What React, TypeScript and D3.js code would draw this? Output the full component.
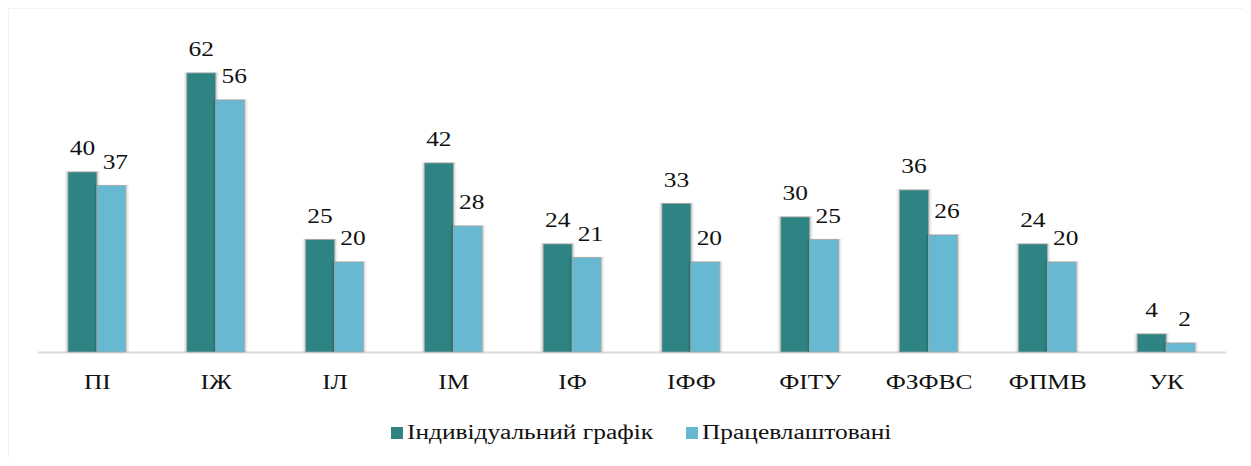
import React from 'react';
import * as d3 from 'd3';

const categories = ['ПІ', 'ІЖ', 'ІЛ', 'ІМ', 'ІФ', 'ІФФ', 'ФІТУ', 'ФЗФВС', 'ФПМВ', 'УК'];
const individual = [40, 62, 25, 42, 24, 33, 30, 36, 24, 4];
const employed = [37, 56, 20, 28, 21, 20, 25, 26, 20, 2];
const seriesNames = ['Індивідуальний графік', 'Працевлаштовані'];
const colors = ['#2e8483', '#67b9d1'];

const W = 1251;
const H = 466;
const baseline = 352;
const FONT = 'Liberation Serif, Tinos, Times New Roman, serif';
// the source picture is stretched horizontally
const stretch = 1.27;

const x0 = d3.scaleBand().domain(categories).range([38, 1226]).paddingInner(0).paddingOuter(0);
const x1 = d3.scaleBand().domain(['0', '1']).range([30, x0.bandwidth() - 31]).padding(0);
const y = d3.scaleLinear().domain([0, 70]).range([baseline, 37]);

const series = [individual, employed];
const legendX = [391, 686];

const Label = ({ x, y, anchor, children }: { x: number; y: number; anchor?: string; children: React.ReactNode }) => (
  <text
    transform={`translate(${x},${y}) scale(${stretch},1)`}
    textAnchor={anchor || 'start'}
    fontFamily={FONT}
    fontSize={20}
    fill="#111"
  >
    {children}
  </text>
);

const App = () => {
  return (
    <svg width={W - 8} height={H - 16} style={{ display: 'block', overflow: 'hidden' }}>
      <g transform="translate(-8,-8)">
        <rect x={7.5} y={7.5} width={W + 20} height={H + 20} fill="#fff" stroke="#d0d0d0" strokeWidth={1.5} />
        <line x1={38} x2={1226} y1={baseline + 0.5} y2={baseline + 0.5} stroke="#d9d9d9" strokeWidth={2} />
        {series.map((vals, si) => (
          <g key={si}>
            {vals.map((d, i) => {
              const bx = (x0(categories[i]) as number) + (x1(String(si)) as number);
              return (
                <g key={i}>
                  <rect x={bx - 3} y={y(d) - 1} width={x1.bandwidth() + 6} height={baseline - y(d) + 1} fill="#000" opacity={0.06} />
                  <rect x={bx - 1.5} y={y(d) - 0.5} width={x1.bandwidth() + 3} height={baseline - y(d) + 0.5} fill="#000" opacity={0.1} />
                  <rect
                    x={bx}
                    y={y(d)}
                    width={x1.bandwidth()}
                    height={baseline - y(d)}
                    fill={colors[si]}
                    stroke="#a6a6a6"
                    strokeWidth={0.75}
                  />
                </g>
              );
            })}
            {vals.map((d, i) => (
              <Label
                key={'t' + i}
                x={(x0(categories[i]) as number) + (x1(String(si)) as number) + x1.bandwidth() / 2 + (si === 1 ? 4 : 0)}
                y={y(d) - 17}
                anchor="middle"
              >
                {d}
              </Label>
            ))}
          </g>
        ))}
        {categories.map((c) => (
          <Label key={c} x={(x0(c) as number) + x0.bandwidth() / 2} y={389} anchor="middle">
            {c}
          </Label>
        ))}
        {seriesNames.map((name, i) => (
          <g key={name}>
            <rect x={legendX[i]} y={427} width={12} height={12} fill={colors[i]} />
            <Label x={legendX[i] + 16} y={439}>
              {name}
            </Label>
          </g>
        ))}
      </g>
    </svg>
  );
};

export default App;
